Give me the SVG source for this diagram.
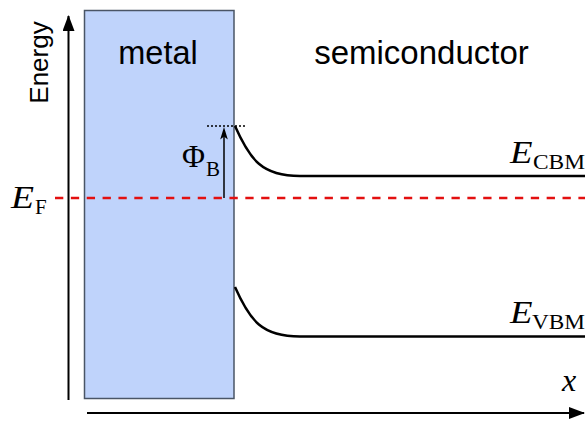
<svg xmlns="http://www.w3.org/2000/svg" width="585" height="425" viewBox="0 0 585 425">
<style>
.sans{font-family:"Liberation Sans",Arial,sans-serif;fill:#000}
.mi{font-family:"Liberation Serif","Times New Roman",serif;font-style:italic;fill:#000}
.rm{font-family:"Liberation Serif","Times New Roman",serif;font-style:normal;fill:#000}
.axis{stroke:#000;stroke-width:2;fill:none}
.band{stroke:#000;stroke-width:2.5;fill:none}
</style>
<defs>
<marker id="axhead" viewBox="0 0 16 12" refX="15" refY="6" markerWidth="16" markerHeight="12" markerUnits="userSpaceOnUse" orient="auto">
<path d="M0,0 L16,6 L0,12 Z" fill="#000"/>
</marker>
</defs>
<rect width="585" height="425" fill="#fff"/>
<g id="metal">
<rect x="84.5" y="10.5" width="149.5" height="388" fill="#bfd3fb" stroke="#4a5566" stroke-width="1.5"/>
<text class="sans" x="158" y="64" font-size="32.5" text-anchor="middle">metal</text>
</g>
<g id="semiconductor">
<text class="sans" x="421.5" y="64" font-size="33" text-anchor="middle">semiconductor</text>
</g>
<g id="connectors">
<line class="axis" x1="68.5" y1="400" x2="68.5" y2="16" marker-end="url(#axhead)"/>
<line class="axis" x1="87" y1="413" x2="584" y2="413" marker-end="url(#axhead)"/>
<line x1="55" y1="198" x2="585" y2="198" stroke="#e31010" stroke-width="2.5" stroke-dasharray="8.3 7.56"/>
<path class="band" d="M235,126 C250,160 262,176 300,176 L585,176"/>
<path class="band" d="M235,287 C250,321 262,336.5 300,336.5 L585,336.5"/>
<line x1="207" y1="126" x2="247" y2="126" stroke="#000" stroke-width="1.4" stroke-dasharray="2 2"/>
<line x1="224" y1="198" x2="224" y2="134" stroke="#000" stroke-width="1.5"/>
<path d="M224,127 L227.8,139.5 L224,136.5 L220.2,139.5 Z" fill="#000"/>
</g>
<g id="energy-label">
<text class="sans" transform="translate(47.5,62.5) rotate(-90)" font-size="26" text-anchor="middle">Energy</text>
</g>
<g id="EF-label">
<text class="mi" font-size="31"><tspan x="11" y="208" textLength="23" lengthAdjust="spacingAndGlyphs">E</tspan><tspan class="rm" x="35" y="214" font-size="21">F</tspan></text>
</g>
<g id="phiB-label">
<text class="rm" font-size="31"><tspan x="182" y="167" textLength="23" lengthAdjust="spacingAndGlyphs">Φ</tspan><tspan x="206" y="176" font-size="21">B</tspan></text>
</g>
<g id="ECBM-label">
<text class="mi" font-size="31"><tspan x="510" y="163" textLength="22.5" lengthAdjust="spacingAndGlyphs">E</tspan><tspan class="rm" x="533" y="169" font-size="20.5" textLength="52" lengthAdjust="spacingAndGlyphs">CBM</tspan></text>
</g>
<g id="EVBM-label">
<text class="mi" font-size="31"><tspan x="510" y="323" textLength="22.5" lengthAdjust="spacingAndGlyphs">E</tspan><tspan class="rm" x="532" y="329" font-size="20.5" textLength="53" lengthAdjust="spacingAndGlyphs">VBM</tspan></text>
</g>
<g id="x-label">
<text class="mi" x="562" y="391" font-size="32">x</text>
</g>
</svg>
